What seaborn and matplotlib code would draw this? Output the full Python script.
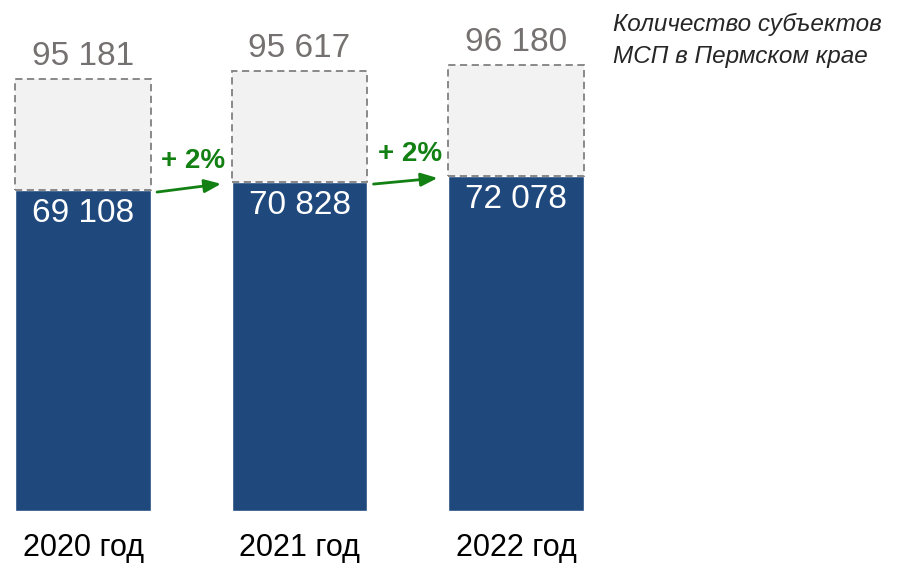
import matplotlib
matplotlib.use("Agg")
import matplotlib.pyplot as plt
import seaborn as sns
import numpy as np

# данные
years = ["2020 год", "2021 год", "2022 год"]
active = [69108, 70828, 72078]        # нижняя (синяя) часть
total = [95181, 95617, 96180]         # подпись над пунктирной рамкой
growth = ["+ 2%", "+ 2%"]
title = "Количество субъектов\nМСП в Пермском крае"

sns.set_style("white")
plt.rcParams["font.family"] = ["Liberation Sans", "DejaVu Sans"]

blue = "#1F497D"
green = "#138013"
grey_txt = "#767171"
box_h = 23900      # высота пунктирной рамки (не в масштабе, как в оригинале)
bar_w = 0.624

fig = plt.figure(figsize=(8.97, 5.65), dpi=100)
ax = fig.add_axes([0, 54 / 565, 1, 511 / 565])

x = np.arange(len(years))
sns.barplot(x=years, y=active, color=blue, width=bar_w, saturation=1, ax=ax)

ax.bar(x, [box_h] * len(x), bottom=active, width=bar_w, facecolor="#F2F2F2",
       edgecolor="#808080", linestyle=(0, (4, 2.5)), linewidth=1.3)

for i in x:
    ax.annotate(f"{total[i]:,}".replace(",", " "), (i, active[i] + box_h),
                xytext=(0, 5), textcoords="offset points", ha="center",
                va="bottom", fontsize=24, color=grey_txt)
    ax.annotate(f"{active[i]:,}".replace(",", " "), (i, active[i]),
                xytext=(0, -6), textcoords="offset points", ha="center",
                va="top", fontsize=24, color="white")

for i, g in enumerate(growth):
    x0, x1 = i + bar_w / 2 + 0.03, i + 1 - bar_w / 2 - 0.05
    y0, y1 = active[i] - 450, active[i + 1] - 400
    ax.annotate("", xy=(x1, y1), xytext=(x0, y0),
                arrowprops=dict(arrowstyle="-|>,head_length=1.0,head_width=0.4",
                                color=green, lw=2, shrinkA=0, shrinkB=0))
    ax.annotate(g, ((x0 + x1) / 2 + 0.02, (y0 + y1) / 2), xytext=(0, 10),
                textcoords="offset points", ha="center", va="bottom",
                fontsize=20, color=green, fontweight="bold")

ax.text(613 / 897, 0.978, title, transform=fig.transFigure, ha="left", va="top",
        fontsize=17.5, style="italic", color="#262626", linespacing=1.55)

ax.set_xlim(-83 / 216.5, (897 - 83) / 216.5)
ax.set_ylim(0, 110000)
ax.set_yticks([])
ax.set_xticks(x)
ax.set_xticklabels(years, fontsize=22, color="black")
ax.tick_params(axis="x", length=0, pad=16)
sns.despine(ax=ax, left=True, bottom=True)

plt.savefig("out.png", dpi=100)
